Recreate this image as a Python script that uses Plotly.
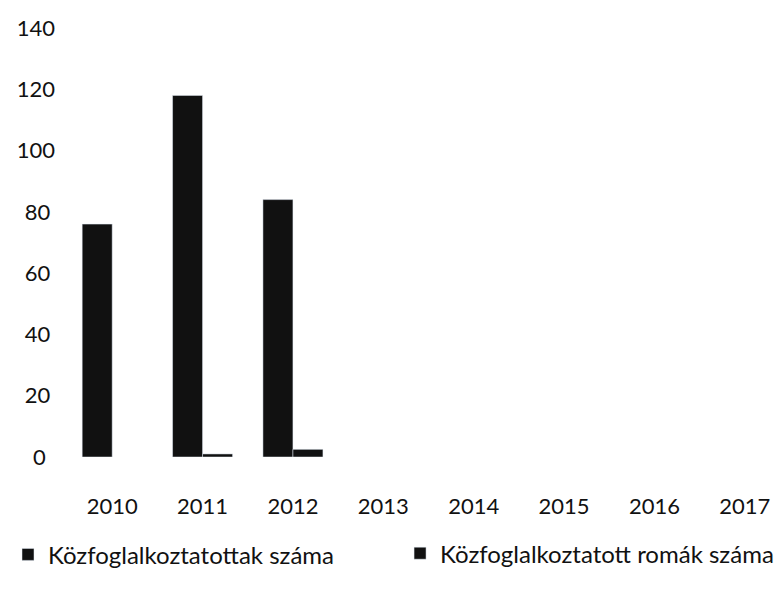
import plotly.graph_objects as go

years = ["2010", "2011", "2012", "2013", "2014", "2015", "2016", "2017"]
kozfog = [76, 118, 84, None, None, None, None, None]
romak = [None, 1, 2.5, None, None, None, None, None]
series_names = ["Közfoglalkoztatottak száma", "Közfoglalkoztatott romák száma"]
y_ticks = [0, 20, 40, 60, 80, 100, 120, 140]
y_ticktext = ["0\u2008\u2008", "20\u2008", "40\u2008", "60\u2008", "80\u2008", "100", "120", "140"]

FONT = "Lato, 'Open Sans', sans-serif"
BAR = "#111111"

fig = go.Figure()
fig.add_trace(go.Bar(x=years, y=kozfog, name=series_names[0], marker_color=BAR, legend="legend"))
fig.add_trace(go.Bar(x=years, y=romak, name=series_names[1], marker_color=BAR, legend="legend2"))

leg_common = dict(orientation="h", xref="container", yref="container",
                  xanchor="left", yanchor="middle", font=dict(size=24),
                  bgcolor="rgba(0,0,0,0)")

fig.update_layout(
    width=783, height=595,
    paper_bgcolor="white", plot_bgcolor="white",
    margin=dict(l=59, r=1, t=20, b=146),
    barmode="group", bargap=0.336, bargroupgap=0,
    font=dict(family=FONT, size=22, color="#111111"),
    showlegend=True,
    legend=dict(x=0, y=0.081, **leg_common),
    legend2=dict(x=0.5007, y=0.083, **leg_common),
)
fig.update_xaxes(showgrid=False, showline=False, zeroline=False, ticks="",
                 ticklabelstandoff=34, tickfont=dict(size=22))
fig.update_yaxes(range=[0, 140], tickvals=y_ticks, ticktext=y_ticktext, showgrid=False,
                 showline=False, zeroline=False, ticks="", ticklabelstandoff=11,
                 tickfont=dict(size=22))

fig.write_html("out.html")
